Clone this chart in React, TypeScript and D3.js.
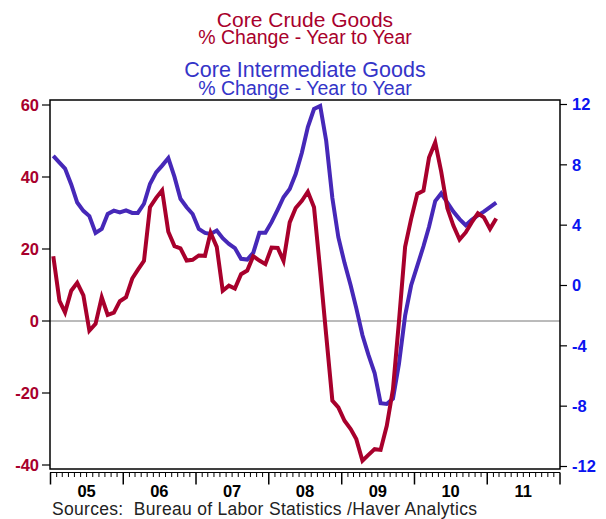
import { useEffect, useRef } from "react";
import * as d3 from "d3";

// monthly observations, Jan 2005 .. Feb 2011
const firstMonth = new Date(2005, 0, 15);

// Core crude goods, % change yr/yr (left axis)
const crudeGoods = [
  18.0, 5.6, 2.4, 8.4, 10.6, 7.1, -2.7, -0.8, 6.6, 1.7, 2.3, 5.5,
  6.6, 11.8, 14.2, 16.7, 31.6, 34.2, 36.3, 24.8, 20.8, 20.2, 16.8, 17.0,
  18.2, 18.1, 24.5, 20.6, 8.4, 9.8, 9.0, 13.0, 14.0, 18.0, 16.8, 15.8,
  20.4, 20.3, 16.7, 27.4, 31.4, 33.4, 35.9, 31.6, 14.0, -3.9, -22.1, -24.0,
  -27.7, -30.0, -32.8, -38.8, -37.2, -35.6, -35.8, -29.1, -19.0, -0.2, 20.6, 28.3,
  35.3, 36.2, 45.4, 49.6, 41.5, 31.3, 26.5, 22.6, 24.6, 27.4, 29.9, 28.8,
  25.6, 28.5,
];

// Core intermediate goods, % change yr/yr (right axis)
const intermediateGoods = [
  8.6, 8.15, 7.75, 6.7, 5.5, 4.95, 4.6, 3.48, 3.75, 4.74, 4.96, 4.84,
  4.98, 4.81, 4.81, 5.42, 6.73, 7.5, 7.95, 8.45, 7.2, 5.75, 5.19, 4.74,
  3.75, 3.49, 3.42, 3.64, 3.14, 2.76, 2.48, 1.77, 1.72, 2.16, 3.49, 3.49,
  4.2, 5.03, 5.85, 6.4, 7.39, 8.8, 10.5, 11.7, 11.9, 9.6, 5.8, 3.2,
  1.5, 0.0, -1.5, -3.3, -4.6, -5.8, -7.8, -7.85, -7.5, -5.2, -2.0, 0.0,
  1.3, 2.6, 3.9, 5.6, 6.1, 5.5, 4.9, 4.4, 4.0, 4.35, 4.65, 4.9,
  5.2, 5.5,
];

const leftTicks = [-40, -20, 0, 20, 40, 60];
const rightTicks = [-12, -8, -4, 0, 4, 8, 12];
const yearLabels = ["05", "06", "07", "08", "09", "10", "11"];

const RED = "#a8002c";
const BLUE_LINE = "#4628b8";
const BLUE_TITLE = "#3434c8";
const BLUE_AXIS = "#0a14f0";
const FONT = "'Liberation Sans', Arial, sans-serif";

const App = () => {
  const svgRef = useRef(null);

  useEffect(() => {
    const svg = d3.select(svgRef.current);
    svg.selectAll("*").remove();

    const plot = { left: 50, right: 560, top: 100, bottom: 469 };

    const x = d3
      .scaleTime()
      .domain([new Date(2005, 0, 1), new Date(2012, 0, 1)])
      .range([50.5, 560]);
    const yLeft = d3.scaleLinear().domain([-40, 60]).range([465, 105]);
    const yRight = d3.scaleLinear().domain([-12, 12]).range([466.5, 104.5]);

    const dates = crudeGoods.map((_, i) => d3.timeMonth.offset(firstMonth, i));

    // titles
    const titles = svg.append("g").attr("font-family", FONT).attr("text-anchor", "middle");
    titles.append("text").attr("x", 305).attr("y", 27).attr("font-size", 21).attr("fill", RED).text("Core Crude Goods");
    titles.append("text").attr("x", 305).attr("y", 43.5).attr("font-size", 19.5).attr("fill", RED).text("% Change - Year to Year");
    titles.append("text").attr("x", 305).attr("y", 77).attr("font-size", 21.5).attr("fill", BLUE_TITLE).text("Core Intermediate Goods");
    titles.append("text").attr("x", 305).attr("y", 94.5).attr("font-size", 19.5).attr("fill", BLUE_TITLE).text("% Change - Year to Year");

    // zero line (left axis)
    svg
      .append("line")
      .attr("x1", plot.left)
      .attr("x2", plot.right)
      .attr("y1", yLeft(0))
      .attr("y2", yLeft(0))
      .attr("stroke", "#777")
      .attr("stroke-width", 1);

    // clip for lines
    svg
      .append("clipPath")
      .attr("id", "plot-clip")
      .append("rect")
      .attr("x", plot.left)
      .attr("y", plot.top)
      .attr("width", plot.right - plot.left)
      .attr("height", plot.bottom - plot.top);

    const lines = svg.append("g").attr("clip-path", "url(#plot-clip)");

    const blueLine = d3
      .line()
      .x((_, i) => x(dates[i]))
      .y((d) => yRight(d));
    const redLine = d3
      .line()
      .x((_, i) => x(dates[i]))
      .y((d) => yLeft(d));

    lines
      .append("path")
      .datum(intermediateGoods)
      .attr("fill", "none")
      .attr("stroke", BLUE_LINE)
      .attr("stroke-width", 4)
      .attr("d", blueLine);

    lines
      .append("path")
      .datum(crudeGoods)
      .attr("fill", "none")
      .attr("stroke", RED)
      .attr("stroke-width", 4)
      .attr("d", redLine);

    // frame
    svg
      .append("rect")
      .attr("x", plot.left)
      .attr("y", plot.top)
      .attr("width", plot.right - plot.left)
      .attr("height", plot.bottom - plot.top)
      .attr("fill", "none")
      .attr("stroke", "#000")
      .attr("stroke-width", 1.5);

    // left axis
    const left = svg.append("g").attr("font-family", FONT);
    left
      .selectAll("line")
      .data(leftTicks)
      .join("line")
      .attr("x1", plot.left - 8)
      .attr("x2", plot.left)
      .attr("y1", (d) => yLeft(d))
      .attr("y2", (d) => yLeft(d))
      .attr("stroke", "#000")
      .attr("stroke-width", 1.2);
    left
      .selectAll("text")
      .data(leftTicks)
      .join("text")
      .attr("x", 39)
      .attr("y", (d) => yLeft(d))
      .attr("dy", "0.36em")
      .attr("text-anchor", "end")
      .attr("font-size", 16.5)
      .attr("font-weight", "bold")
      .attr("fill", RED)
      .text((d) => d);

    // right axis
    const right = svg.append("g").attr("font-family", FONT);
    right
      .selectAll("line")
      .data(rightTicks)
      .join("line")
      .attr("x1", plot.right)
      .attr("x2", plot.right + 7)
      .attr("y1", (d) => yRight(d))
      .attr("y2", (d) => yRight(d))
      .attr("stroke", "#000")
      .attr("stroke-width", 1.2);
    right
      .selectAll("text")
      .data(rightTicks)
      .join("text")
      .attr("x", 572)
      .attr("y", (d) => yRight(d))
      .attr("dy", "0.36em")
      .attr("font-size", 16.5)
      .attr("font-weight", "bold")
      .attr("fill", BLUE_AXIS)
      .text((d) => d);

    // bottom axis: monthly ticks, years labelled in the middle
    const axisY = 472.5;
    const bottom = svg.append("g").attr("font-family", FONT);
    bottom
      .append("line")
      .attr("x1", plot.left)
      .attr("x2", plot.right)
      .attr("y1", axisY)
      .attr("y2", axisY)
      .attr("stroke", "#000")
      .attr("stroke-width", 1);
    const months = d3.timeMonth.range(new Date(2005, 0, 1), new Date(2012, 0, 2));
    bottom
      .selectAll("line.tick")
      .data(months)
      .join("line")
      .attr("class", "tick")
      .attr("x1", (d) => x(d))
      .attr("x2", (d) => x(d))
      .attr("y1", axisY)
      .attr("y2", (d) => (d.getMonth() === 0 ? axisY + 12 : axisY + 4.5))
      .attr("stroke", "#000")
      .attr("stroke-width", (d) => (d.getMonth() === 0 ? 1.5 : 1));
    bottom
      .selectAll("text")
      .data(yearLabels)
      .join("text")
      .attr("x", (d, i) => x(new Date(2005 + i, 6, 1)))
      .attr("y", 497)
      .attr("text-anchor", "middle")
      .attr("font-size", 16.5)
      .attr("font-weight", "bold")
      .attr("fill", "#000")
      .text((d) => d);

    svg
      .append("text")
      .attr("x", 52)
      .attr("y", 515)
      .attr("font-family", FONT)
      .attr("font-size", 17.5)
      .attr("fill", "#222")
      .attr("textLength", 425)
      .attr("lengthAdjust", "spacing")
      .style("white-space", "pre")
      .text("Sources:  Bureau of Labor Statistics /Haver Analytics");
  }, []);

  return (
    <div style={{ position: "absolute", left: 0, top: 0 }}>
      <svg ref={svgRef} width={606} height={519} style={{ display: "block", background: "#fff" }} />
    </div>
  );
};

export default App;
